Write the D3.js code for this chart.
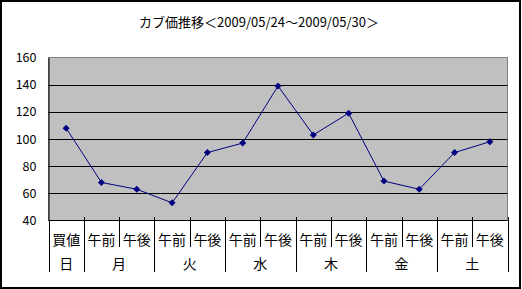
<!DOCTYPE html>
<html><head><meta charset="utf-8">
<script src="https://cdn.jsdelivr.net/npm/d3@7"></script>
<style>body{margin:0;background:#fff}svg{display:block}text{font-family:"Noto Sans CJK JP",sans-serif;fill:#000}</style>
</head><body><svg id="c" width="522" height="289"></svg>
<script>
const title = "カブ価推移＜2009/05/24～2009/05/30＞";
const slots = ["買値","午前","午後","午前","午後","午前","午後","午前","午後","午前","午後","午前","午後"];
const days = ["日","月","火","水","木","金","土"];
const daySpan = [1,2,2,2,2,2,2];
const prices = [108,68,63,53,90,97,139,103,119,69,63,90,98];
const yTicks = [40,60,80,100,120,140,160];

const svg = d3.select("#c");
const L=48.5, R=507.5, T=57.5, B=220.5;
const x = d3.scaleBand().domain(d3.range(slots.length)).range([L,R]).padding(0);
const y = d3.scaleLinear().domain([40,160]).range([B,T]);

svg.append("rect").attr("x",1).attr("y",1).attr("width",519).attr("height",287).attr("fill","#fff").attr("stroke","#000").attr("stroke-width",2);

svg.append("text").attr("x",259).attr("y",21).attr("text-anchor","middle").attr("dominant-baseline","central").style("font-size","13px").text(title);

svg.append("rect").attr("x",L).attr("y",T).attr("width",R-L).attr("height",B-T).attr("fill","#c0c0c0").attr("stroke","#808080");

// gridlines
svg.append("g").selectAll("line").data(yTicks.filter(v=>v>40 && v<160)).join("line")
  .attr("x1",L).attr("x2",R).attr("y1",d=>Math.round(y(d))+0.5).attr("y2",d=>Math.round(y(d))+0.5).attr("stroke","#000");

// y axis
const ya = svg.append("g").attr("transform",`translate(${L},0)`).call(d3.axisLeft(y).tickValues(yTicks).tickSize(0).tickPadding(12));
ya.select(".domain").attr("stroke","#000");
ya.selectAll("text").style("font-size","12.5px").style("font-family",'"Noto Sans CJK JP",sans-serif');

// x axis line
svg.append("line").attr("x1",L).attr("x2",R).attr("y1",B).attr("y2",B).attr("stroke","#000");

// boundaries
const bounds = d3.range(slots.length+1);
const dayStarts = [0]; daySpan.forEach((s,i)=>dayStarts.push(dayStarts[i]+s));
const bx = i => i<slots.length ? x(i) : R;
svg.append("g").selectAll("line").data(bounds).join("line")
  .attr("x1",d=>Math.round(bx(d))+0.5).attr("x2",d=>Math.round(bx(d))+0.5)
  .attr("y1",d=> (d===0)?B:B-3.5)
  .attr("y2",d=> dayStarts.includes(d)?272:247)
  .attr("stroke","#000");

// slot labels
svg.append("g").selectAll("text").data(slots).join("text")
  .attr("x",(d,i)=>x(i)+x.bandwidth()/2).attr("y",239).attr("text-anchor","middle").attr("dominant-baseline","central")
  .style("font-size","14px").text(d=>d);
// day labels
svg.append("g").selectAll("text").data(days).join("text")
  .attr("x",(d,i)=>(bx(dayStarts[i])+bx(dayStarts[i+1]))/2).attr("y",263).attr("text-anchor","middle").attr("dominant-baseline","central")
  .style("font-size","14px").text(d=>d);

// line
const cx = i => x(i)+x.bandwidth()/2;
svg.append("path").datum(prices).attr("fill","none").attr("stroke","#000080").attr("stroke-width",1)
  .attr("d", d3.line().x((d,i)=>cx(i)).y(d=>y(d)));
svg.append("g").selectAll("path").data(prices).join("path")
  .attr("transform",(d,i)=>`translate(${cx(i)},${y(d)})`)
  .attr("d","M0,-3.5L3.5,0L0,3.5L-3.5,0Z").attr("fill","#000080");
</script></body></html>
